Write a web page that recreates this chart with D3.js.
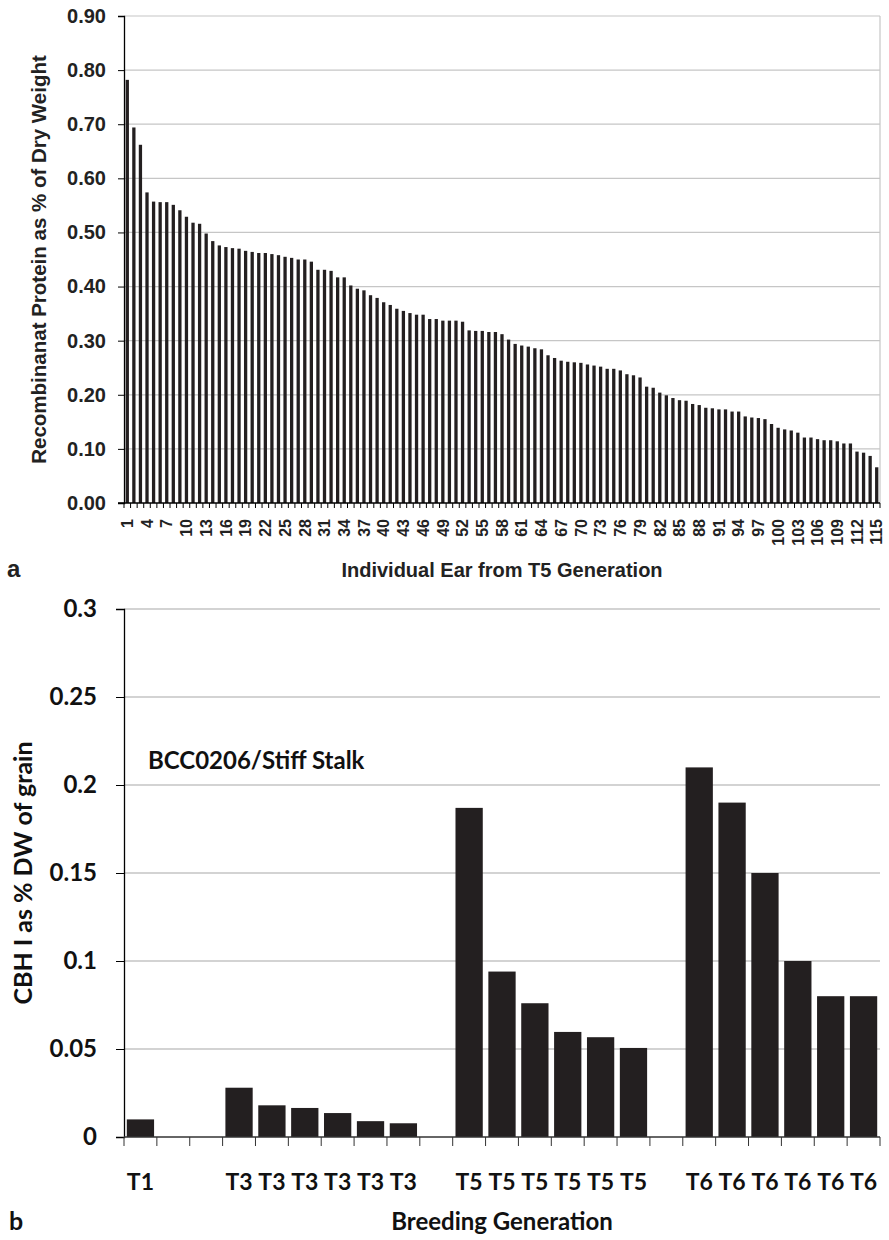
<!DOCTYPE html>
<html>
<head>
<meta charset="utf-8">
<script src="https://cdn.jsdelivr.net/npm/d3@7"></script>
<style>
  body { margin: 0; background: #fff; }
  .arial { font-family: "Liberation Sans", Arial, sans-serif; font-weight: bold; }
  .calib { font-family: Lato, "Open Sans", sans-serif; font-weight: bold; }
</style>
</head>
<body>
<svg id="chart" width="889" height="1240"></svg>
<script>

// ---------------------------
// DATA
// ---------------------------

// panel a: recombinant protein per ear (T5), sorted high to low
const earValues = [
    0.782, 0.694, 0.662, 0.574, 0.557, 0.556, 0.556, 0.551, 0.541, 0.529,
    0.518, 0.516, 0.498, 0.484, 0.476, 0.473, 0.471, 0.470, 0.466, 0.464,
    0.462, 0.462, 0.460, 0.458, 0.455, 0.453, 0.450, 0.450, 0.446, 0.431,
    0.431, 0.429, 0.417, 0.417, 0.402, 0.396, 0.393, 0.384, 0.379, 0.371,
    0.366, 0.359, 0.355, 0.351, 0.348, 0.348, 0.340, 0.340, 0.337, 0.337,
    0.337, 0.335, 0.319, 0.318, 0.318, 0.316, 0.316, 0.312, 0.302, 0.294,
    0.291, 0.289, 0.286, 0.284, 0.273, 0.268, 0.263, 0.261, 0.260, 0.259,
    0.256, 0.254, 0.252, 0.248, 0.248, 0.245, 0.238, 0.236, 0.232, 0.215,
    0.213, 0.204, 0.199, 0.194, 0.190, 0.189, 0.183, 0.181, 0.176, 0.175,
    0.173, 0.173, 0.169, 0.169, 0.160, 0.158, 0.157, 0.155, 0.146, 0.139,
    0.136, 0.134, 0.130, 0.121, 0.121, 0.118, 0.116, 0.116, 0.114, 0.110,
    0.110, 0.095, 0.093, 0.087, 0.066
];
const earIds = earValues.map((d, i) => i + 1);
const earYTicks = [0, 0.1, 0.2, 0.3, 0.4, 0.5, 0.6, 0.7, 0.8, 0.9];

// panel b: CBH I by breeding generation (blank slots are gaps)
const genLabels = ["T1", "", "", "T3", "T3", "T3", "T3", "T3", "T3", "",
    "T5", "T5", "T5", "T5", "T5", "T5", "",
    "T6", "T6", "T6", "T6", "T6", "T6"];
const genValues = [0.010, null, null, 0.028, 0.018, 0.0165, 0.0136, 0.009, 0.0078, null,
    0.187, 0.094, 0.076, 0.0597, 0.0567, 0.0506, null,
    0.21, 0.19, 0.15, 0.10, 0.08, 0.08];
const genYTicks = [0, 0.05, 0.1, 0.15, 0.2, 0.25, 0.3];

const barColor = "#231f20";
const svg = d3.select("#chart");


// ---------------------------
// PANEL A
// ---------------------------

const a = { left: 124, right: 880, top: 16, bottom: 503 };

const xA = d3.scaleBand()
    .domain(earIds)
    .range([a.left, a.right])
    .paddingInner(0.5)
    .paddingOuter(0.25);

const yA = d3.scaleLinear()
    .domain([0, 0.9])
    .range([a.bottom, a.top]);

const gA = svg.append("g");

// gridlines
gA.selectAll(".gridA")
    .data(earYTicks.slice(1))
    .join("line")
    .attr("x1", a.left).attr("x2", a.right)
    .attr("y1", d => yA(d)).attr("y2", d => yA(d))
    .attr("stroke", "#c6c6c6")
    .attr("stroke-width", 1.2);

// right frame line
gA.append("line")
    .attr("x1", a.right).attr("x2", a.right)
    .attr("y1", a.top).attr("y2", a.bottom)
    .attr("stroke", "#c6c6c6")
    .attr("stroke-width", 1.2);

// bars
gA.selectAll(".barA")
    .data(earValues)
    .join("rect")
    .attr("x", (d, i) => xA(earIds[i]))
    .attr("y", d => yA(d))
    .attr("width", xA.bandwidth())
    .attr("height", d => yA(0) - yA(d))
    .attr("fill", barColor);

// y axis
const yAxisA = gA.append("g")
    .attr("transform", `translate(${a.left},0)`)
    .call(d3.axisLeft(yA)
        .tickValues(earYTicks)
        .tickFormat(d3.format(".2f"))
        .tickSize(6)
        .tickPadding(12));
yAxisA.select(".domain").attr("stroke", "#000").attr("stroke-width", 1.3);
yAxisA.selectAll(".tick line").attr("stroke", "#000");
yAxisA.selectAll("text")
    .attr("font-size", "20px")
    .attr("font-family", "Liberation Sans, Arial, sans-serif")
    .attr("font-weight", "bold")
    .attr("fill", "#222");

// x axis line + category boundary ticks
gA.append("line")
    .attr("x1", a.left - 6).attr("x2", a.right)
    .attr("y1", a.bottom).attr("y2", a.bottom)
    .attr("stroke", "#000")
    .attr("stroke-width", 1.3);

const stepA = xA.step();
gA.selectAll(".tickA")
    .data(d3.range(earIds.length + 1))
    .join("line")
    .attr("x1", i => a.left + i * stepA)
    .attr("x2", i => a.left + i * stepA)
    .attr("y1", a.bottom)
    .attr("y2", a.bottom + 5)
    .attr("stroke", "#000");

// rotated labels, every third ear
gA.selectAll(".labA")
    .data(earIds.filter(d => (d - 1) % 3 === 0))
    .join("text")
    .attr("class", "arial")
    .attr("transform", d => `translate(${xA(d) + xA.bandwidth() / 2},${a.bottom + 16}) rotate(-90)`)
    .attr("text-anchor", "end")
    .attr("dy", "0.36em")
    .attr("font-size", "16px")
    .attr("fill", "#222")
    .text(d => d);

// titles
gA.append("text")
    .attr("class", "arial")
    .attr("transform", `translate(46,${(a.top + a.bottom) / 2}) rotate(-90)`)
    .attr("text-anchor", "middle")
    .attr("font-size", "20.5px")
    .attr("fill", "#222")
    .text("Recombinanat Protein as % of Dry Weight");

gA.append("text")
    .attr("class", "arial")
    .attr("x", (a.left + a.right) / 2)
    .attr("y", 577)
    .attr("text-anchor", "middle")
    .attr("font-size", "20px")
    .attr("fill", "#222")
    .text("Individual Ear from T5 Generation");

gA.append("text")
    .attr("class", "arial")
    .attr("x", 7)
    .attr("y", 577)
    .attr("font-size", "24px")
    .attr("fill", "#222")
    .text("a");


// ---------------------------
// PANEL B
// ---------------------------

const b = { left: 124, right: 880, top: 609, bottom: 1137 };

const xB = d3.scaleBand()
    .domain(d3.range(genLabels.length))
    .range([b.left, b.right])
    .paddingInner(0.17)
    .paddingOuter(0.085);

const yB = d3.scaleLinear()
    .domain([0, 0.3])
    .range([b.bottom, b.top]);

const gB = svg.append("g");

gB.selectAll(".gridB")
    .data(genYTicks.slice(1))
    .join("line")
    .attr("x1", b.left).attr("x2", b.right)
    .attr("y1", d => yB(d)).attr("y2", d => yB(d))
    .attr("stroke", "#a8a8a8")
    .attr("stroke-width", 1.2);

gB.selectAll(".barB")
    .data(genValues.map((v, i) => ({ i, v })).filter(d => d.v !== null))
    .join("rect")
    .attr("x", d => xB(d.i))
    .attr("y", d => yB(d.v))
    .attr("width", xB.bandwidth())
    .attr("height", d => yB(0) - yB(d.v))
    .attr("fill", barColor);

const yAxisB = gB.append("g")
    .attr("transform", `translate(${b.left},0)`)
    .call(d3.axisLeft(yB)
        .tickValues(genYTicks)
        .tickFormat(d => d)
        .tickSize(8)
        .tickPadding(19));
yAxisB.select(".domain").attr("stroke", "#000").attr("stroke-width", 1.3);
yAxisB.selectAll(".tick line").attr("stroke", "#000");
yAxisB.selectAll("text")
    .attr("font-size", "24px")
    .attr("font-family", "Lato, sans-serif")
    .attr("font-weight", "bold")
    .attr("fill", "#111");

gB.append("line")
    .attr("x1", b.left).attr("x2", b.right)
    .attr("y1", b.bottom).attr("y2", b.bottom)
    .attr("stroke", "#333")
    .attr("stroke-width", 1.3);

const stepB = xB.step();
gB.selectAll(".tickB")
    .data(d3.range(genLabels.length + 1))
    .join("line")
    .attr("x1", i => b.left + i * stepB)
    .attr("x2", i => b.left + i * stepB)
    .attr("y1", b.bottom)
    .attr("y2", b.bottom + 9)
    .attr("stroke", "#333");

gB.selectAll(".labB")
    .data(genLabels)
    .join("text")
    .attr("class", "calib")
    .attr("x", (d, i) => xB(i) + xB.bandwidth() / 2)
    .attr("y", 1190)
    .attr("text-anchor", "middle")
    .attr("font-size", "23px")
    .attr("fill", "#111")
    .text(d => d);

gB.append("text")
    .attr("class", "calib")
    .attr("x", 148)
    .attr("y", 769)
    .attr("font-size", "24px")
    .attr("fill", "#111")
    .text("BCC0206/Stiff Stalk");

gB.append("text")
    .attr("class", "calib")
    .attr("transform", `translate(32,${(b.top + b.bottom) / 2}) rotate(-90)`)
    .attr("text-anchor", "middle")
    .attr("font-size", "25px")
    .attr("fill", "#111")
    .text("CBH I as % DW of grain");

gB.append("text")
    .attr("class", "calib")
    .attr("x", (b.left + b.right) / 2)
    .attr("y", 1230)
    .attr("text-anchor", "middle")
    .attr("font-size", "24px")
    .attr("fill", "#111")
    .text("Breeding Generation");

gB.append("text")
    .attr("class", "calib")
    .attr("x", 9)
    .attr("y", 1230)
    .attr("font-size", "25px")
    .attr("fill", "#111")
    .text("b");

</script>
</body>
</html>
